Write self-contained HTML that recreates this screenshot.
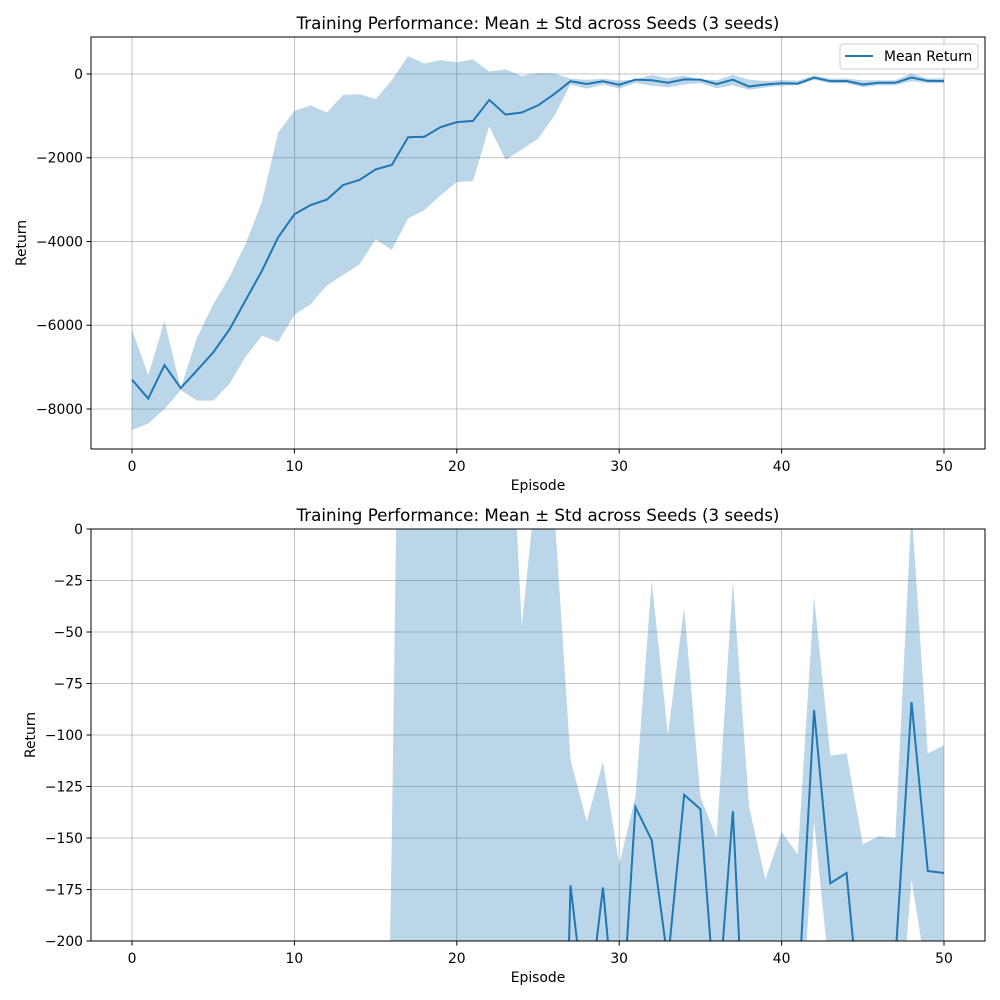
<!DOCTYPE html>
<html><head><meta charset="utf-8"><style>
html,body{margin:0;background:#fff;overflow:hidden;width:1000px;height:1000px;}
svg{display:block;}
svg text{font-family:"DejaVu Sans","Liberation Sans",sans-serif;fill:#000;}
</style></head><body>
<svg id="chart" width="1000" height="1000" xmlns="http://www.w3.org/2000/svg"></svg>
<script>
const episodes = Array.from({length:51},(_,i)=>i);
const meanReturn = [-7300,-7750,-6950,-7500,-7080,-6650,-6100,-5400,-4700,-3900,-3350,-3130,-3000,-2650,-2530,-2280,-2170,-1510,-1500,-1270,-1150,-1120,-620,-970,-920,-750,-480,-173,-240,-174,-260,-135,-151,-210,-129,-136,-240,-137,-300,-250,-220,-230,-88,-172,-167,-250,-210,-210,-84,-166,-167];
const upperBand = [-6100,-7200,-5900,-7500,-6300,-5500,-4850,-4050,-3050,-1400,-880,-750,-920,-500,-480,-600,-150,430,250,330,280,350,60,110,-47,30,10,-112,-142,-113,-163,-130,-25,-100,-38,-130,-150,-25,-135,-170,-147,-158,-33,-110,-109,-153,-149,-150,10,-109,-105];
const lowerBand = [-8500,-8350,-8000,-7550,-7800,-7800,-7400,-6750,-6250,-6400,-5750,-5500,-5050,-4800,-4550,-3950,-4200,-3450,-3250,-2900,-2580,-2560,-1250,-2050,-1800,-1550,-1000,-250,-350,-250,-350,-215,-280,-320,-250,-215,-340,-270,-380,-320,-280,-270,-142,-220,-220,-320,-270,-270,-170,-220,-220];
const xTicks = [0,10,20,30,40,50];
const yTicksTop = [0,-2000,-4000,-6000,-8000];
const yTicksBottom = [0,-25,-50,-75,-100,-125,-150,-175,-200];

const NS="http://www.w3.org/2000/svg";
const svg=document.getElementById('chart');
function mk(tag,attrs,parent){const e=document.createElementNS(NS,tag);for(const k in attrs)e.setAttribute(k,attrs[k]);(parent||svg).appendChild(e);return e;}
const xS=v=>132+v*(944-132)/50;
const FS=13.9;

function panel(id,top,bottom,ymin,ymax,yTicks,yFmt,withLegend,label){
  const L=91,R=985;
  const yS=v=>bottom-(v-ymin)*(bottom-top)/(ymax-ymin);
  const g=mk('g',{});
  
  
  const clip=mk('clipPath',{id:'clip'+id},g);
  mk('rect',{x:L,y:top,width:R-L,height:bottom-top},clip);
  xTicks.forEach(t=>{const l=mk('line',{x1:xS(t),x2:xS(t),y1:top,y2:bottom,stroke:'#b0b0b0','stroke-width':0.8},g);
    });
  yTicks.forEach(t=>{const l=mk('line',{x1:L,x2:R,y1:yS(t),y2:yS(t),stroke:'#b0b0b0','stroke-width':0.8},g);
    });
  const cg=mk('g',{'clip-path':'url(#clip'+id+')'},g);
  let d='M'+episodes.map((e,i)=>xS(e)+','+yS(upperBand[i])).join('L');
  for(let i=episodes.length-1;i>=0;i--)d+='L'+xS(episodes[i])+','+yS(lowerBand[i]);
  d+='Z';
  const band=mk('path',{d,fill:'#1f77b4','fill-opacity':0.3},cg);
  
  const line=mk('polyline',{points:episodes.map((e,i)=>xS(e)+','+yS(meanReturn[i])).join(' '),fill:'none',stroke:'#1f77b4','stroke-width':2},cg);
  
  const fr=mk('rect',{x:L,y:top,width:R-L,height:bottom-top,fill:'none',stroke:'#000','stroke-width':1},g);
  
  xTicks.forEach(t=>{mk('line',{x1:xS(t),x2:xS(t),y1:bottom,y2:bottom+4.5,stroke:'#000','stroke-width':1},g);
    const tx=mk('text',{x:xS(t),y:bottom+22,'font-size':FS,'text-anchor':'middle'},g);tx.textContent=t;
    });
  yTicks.forEach(t=>{mk('line',{x1:L-4.5,x2:L,y1:yS(t),y2:yS(t),stroke:'#000','stroke-width':1},g);
    const tx=mk('text',{x:L-8,y:yS(t)+5,'font-size':FS,'text-anchor':'end'},g);tx.textContent=yFmt(t);
    });
  const xt=mk('text',{x:(L+R)/2,y:bottom+41,'font-size':FS,'text-anchor':'middle'},g);xt.textContent='Episode';
  
  const yx=id==1?26:35;
  const yt=mk('text',{x:yx,y:(top+bottom)/2,'font-size':FS,'text-anchor':'middle',transform:`rotate(-90 ${yx} ${(top+bottom)/2})`},g);yt.textContent='Return';
  
  const ti=mk('text',{x:(L+R)/2,y:top-8,'font-size':16.7,'text-anchor':'middle'},g);ti.textContent='Training Performance: Mean ± Std across Seeds (3 seeds)';
  
  if(withLegend){
    const lg=mk('g',{},g);
    
    mk('rect',{x:840,y:44,width:138,height:25,rx:3,fill:'#fff','fill-opacity':0.8,stroke:'#ccc','stroke-width':1},lg);
    mk('line',{x1:845,x2:873,y1:56,y2:56,stroke:'#1f77b4','stroke-width':2},lg);
    const lt=mk('text',{x:884,y:61,'font-size':FS},lg);lt.textContent='Mean Return';
    
  }
}
panel(1,37,449,-8955,883,yTicksTop,t=>t==0?'0':'\u2212'+Math.abs(t),true,'top-panel');
panel(2,529,941,-200,0,yTicksBottom,t=>t==0?'0':'\u2212'+Math.abs(t),false,'bottom-panel');
</script>
</body></html>
